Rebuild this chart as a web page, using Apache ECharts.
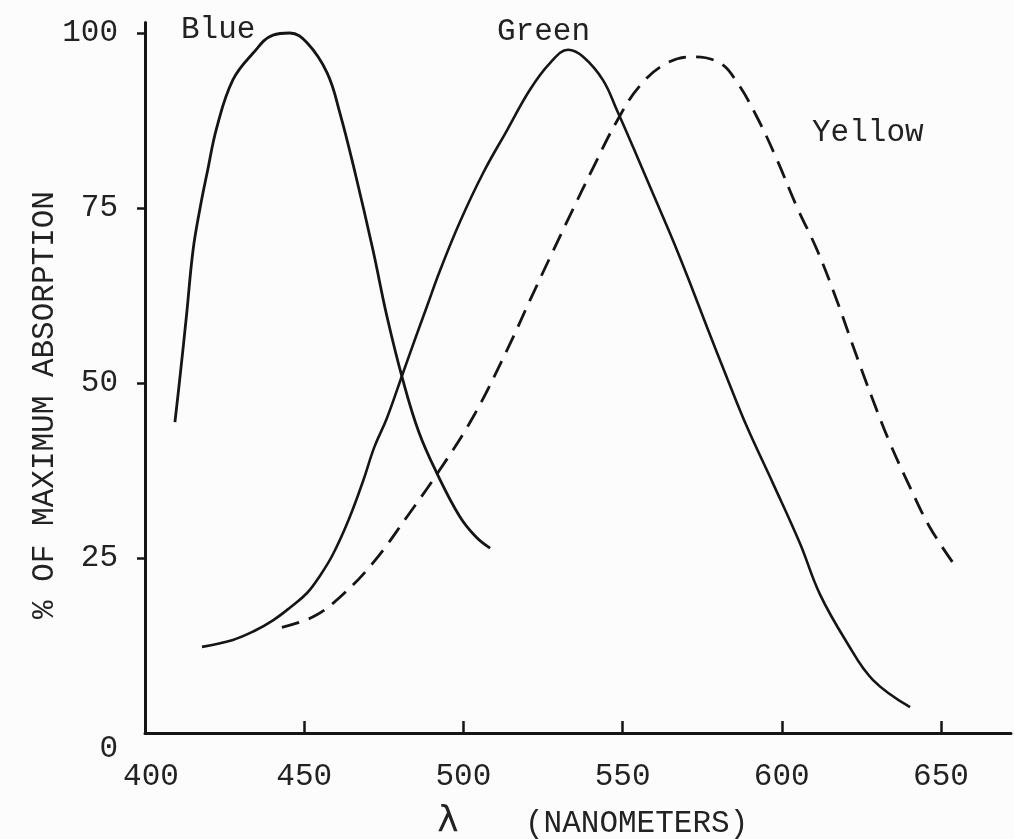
<!DOCTYPE html>
<html>
<head>
<meta charset="utf-8">
<script src="https://cdn.jsdelivr.net/npm/echarts@6/dist/echarts.min.js"></script>
<style>
html,body{margin:0;padding:0;background:#fcfcfc;}
#chart{width:1014px;height:839px;}
</style>
</head>
<body>
<div id="chart"></div>
<script>
// Wavelength (nm) vs % of maximum absorption
const blueCurve = [
  [409.4,44.4],[411.0,50.9],[413.0,59.5],[415.1,69.0],[417.3,75.0],[419.5,80.0],
  [422.6,86.6],[427.6,93.3],[433.9,97.1],[440.2,99.7],[445.5,100],[450.9,98.6],
  [457.2,94.3],[461.2,88.6],[466.0,80.0],[471.6,69.0],[476.0,59.5],[481.0,50.4],
  [486.0,43.0],[491.7,37.1],[498.9,30.9],[504.0,28.0],[508.4,26.4]
];
const greenCurve = [
  [417.9,12.3],[427.6,13.3],[434.0,14.5],[440.2,16.1],[445.5,17.9],[450.9,20.0],
  [455.0,22.5],[459.0,25.5],[464.0,30.5],[468.5,36.0],[472.0,40.8],[476.0,45.0],
  [481.0,51.4],[485.0,56.5],[488.6,61.0],[492.6,66.0],[498.9,73.0],[506.2,80.0],
  [513.7,86.1],[520.9,91.9],[527.2,95.7],[532.9,97.6],[537.6,96.6],[543.8,93.3],
  [548.2,89.0],[553.3,83.7],[559.5,77.1],[565.8,70.4],[571.0,64.5],[576.5,58.0],
  [583.0,50.5],[589.1,43.7],[597.2,35.7],[605.7,27.1],[612.0,19.8],[620.5,12.9],
  [628.6,7.6],[640.3,3.7]
];
const yellowCurve = [
  [443.0,15.1],[452.8,16.6],[461.2,19.4],[471.6,24.3],[482.3,30.9],[492.6,37.6],
  [503.0,45.1],[513.7,54.7],[520.9,61.8],[528.1,68.8],[534.4,74.8],[540.7,80.7],
  [548.2,87.4],[555.5,92.5],[563.9,95.7],[572.1,96.6],[580.6,95.7],[585.9,93.0],
  [592.2,88.0],[598.5,81.9],[604.8,75.1],[611.1,69.0],[617.3,61.8],[623.0,54.5],
  [628.6,47.6],[634.0,41.4],[640.3,35.1],[646.5,29.4],[653.8,24.3]
];
const xTickValues = [450,500,550,600,650];
const xLabelValues = [400,450,500,550,600,650];
const yTickValues = [25,50,75,100];
const yLabelValues = [0,25,50,75,100];
const curveNames = ['Blue','Green','Yellow'];

const FONT = '"Liberation Mono", "DejaVu Sans Mono", monospace';
const INK = '#151515';
const TXT = '#222';

const chart = echarts.init(document.getElementById('chart'), null, {renderer:'canvas'});
chart.setOption({
  backgroundColor:'#fcfcfc',
  animation:false,
  grid:{left:145, right:3, top:22.5, bottom:106},
  xAxis:{
    type:'value', min:400, max:672,
    splitLine:{show:false},
    axisLine:{show:true, lineStyle:{color:INK, width:3}},
    axisTick:{show:true, inside:true, length:12, customValues:xTickValues, lineStyle:{color:INK, width:2.5}},
    axisLabel:{
      customValues:xLabelValues, margin:28,
      fontFamily:FONT, fontSize:31, color:TXT,
      formatter:v => v === 400 ? '{a|400}' : String(v),
      rich:{a:{fontFamily:FONT, fontSize:31, color:TXT, padding:[0,0,0,12]}}
    }
  },
  yAxis:{
    type:'value', min:0, max:101.5,
    splitLine:{show:false},
    axisLine:{show:true, lineStyle:{color:INK, width:3}},
    axisTick:{show:true, inside:false, length:8, customValues:yTickValues, lineStyle:{color:INK, width:2.5}},
    axisLabel:{
      customValues:yLabelValues, margin:27,
      fontFamily:FONT, fontSize:31, color:TXT,
      formatter:v => v === 0 ? '{z|0}' : String(v),
      rich:{z:{fontFamily:FONT, fontSize:31, color:TXT, padding:[32,0,0,0]}}
    }
  },
  series:[
    {name:curveNames[0], type:'line', data:blueCurve, smooth:0.4, showSymbol:false,
     lineStyle:{color:INK, width:2.8}},
    {name:curveNames[1], type:'line', data:greenCurve, smooth:0.4, showSymbol:false,
     lineStyle:{color:INK, width:2.6}},
    {name:curveNames[2], type:'line', data:yellowCurve, smooth:0.4, showSymbol:false,
     lineStyle:{color:INK, width:2.8, type:[18,10]}}
  ],
  graphic:[
    {type:'text', left:181, top:14, style:{text:curveNames[0], font:'31px '+FONT, fill:TXT}},
    {type:'text', left:497, top:16, style:{text:curveNames[1], font:'31px '+FONT, fill:TXT}},
    {type:'text', left:812, top:117, style:{text:curveNames[2], font:'31px '+FONT, fill:TXT}},
    {type:'text', x:45, y:405, rotation:Math.PI/2,
     style:{text:'% OF MAXIMUM ABSORPTION', font:'31px '+FONT, fill:TXT, align:'center', verticalAlign:'middle'}},
    {type:'text', x:448, y:822,
     style:{text:'λ', font:'36px "DejaVu Sans", sans-serif', fill:TXT, align:'center', verticalAlign:'middle'}},
    {type:'text', x:525, y:824,
     style:{text:'(NANOMETERS)', font:'31px '+FONT, fill:TXT, align:'left', verticalAlign:'middle'}}
  ]
});
</script>
</body>
</html>
